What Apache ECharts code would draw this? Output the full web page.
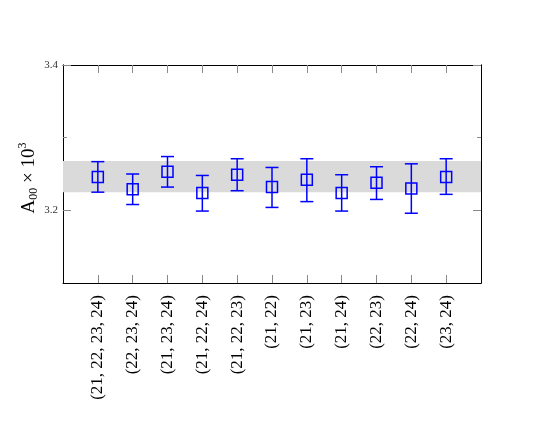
<!DOCTYPE html>
<html>
<head>
<meta charset="utf-8">
<script src="https://cdn.jsdelivr.net/npm/echarts@6/dist/echarts.min.js"></script>
<style>
  html, body { margin: 0; padding: 0; background: #fff; }
  #chart { width: 545px; height: 436px; }
</style>
</head>
<body>
<div id="chart"></div>
<script>
  // fit sets (time slices)
  var categories = ['(21, 22, 23, 24)', '(22, 23, 24)', '(21, 23, 24)', '(21, 22, 24)', '(21, 22, 23)',
    '(21, 22)', '(21, 23)', '(21, 24)', '(22, 23)', '(22, 24)', '(23, 24)'];
  var values = [3.246, 3.229, 3.253, 3.224, 3.249, 3.232, 3.242, 3.224, 3.238, 3.230, 3.246];
  var upper  = [3.267, 3.250, 3.274, 3.248, 3.271, 3.259, 3.271, 3.249, 3.260, 3.264, 3.271];
  var lower  = [3.225, 3.208, 3.232, 3.199, 3.227, 3.204, 3.212, 3.199, 3.215, 3.196, 3.222];
  var band = [3.225, 3.268];
  var yTicks = [3.2, 3.4];

  var serif = '"Liberation Serif", "DejaVu Serif", serif';
  var blue = '#0000ff';
  var tickGrey = '#888';

  var points = values.map(function (v, i) { return [i + 1, v]; });
  var bars = values.map(function (v, i) { return [i + 1, lower[i], upper[i]]; });

  var chart = echarts.init(document.getElementById('chart'));

  function yAx(pos, ticks, len, showLabel) {
    return {
      type: 'value', position: pos, min: 3.1, max: 3.4, interval: 0.1,
      axisLine: { show: true, onZero: false, lineStyle: { color: '#000', width: 1 } },
      axisTick: { show: true, inside: true, length: len, customValues: ticks, lineStyle: { color: tickGrey, width: 1 } },
      axisLabel: showLabel ? {
        show: true, customValues: yTicks, margin: 5, fontFamily: serif, fontSize: 11, color: '#333',
        formatter: function (v) { return v.toFixed(1); }
      } : { show: false },
      splitLine: { show: false }
    };
  }

  var yLeft = yAx('left', yTicks, 8, true);
  yLeft.name = '{a|A}{sub|00}{a| \u00d7 10}{sup|3}';
  yLeft.nameLocation = 'middle';
  yLeft.nameGap = 22;
  yLeft.nameMoveOverlap = false;
  yLeft.nameRotate = 90;
  yLeft.nameTextStyle = {
    fontFamily: serif, fontSize: 19, color: '#000', padding: [0, 8, 0, 0],
    rich: {
      a: { fontFamily: serif, fontSize: 19, color: '#000', lineHeight: 24 },
      sub: { fontFamily: serif, fontSize: 12, color: '#000', padding: [10, 0, 0, 0], lineHeight: 24 },
      sup: { fontFamily: serif, fontSize: 12, color: '#000', padding: [0, 0, 12, 0], lineHeight: 24 }
    }
  };

  var option = {
    animation: false,
    grid: { left: 63, top: 65, right: 64, bottom: 153 },
    xAxis: [
      {
        type: 'value', position: 'bottom', min: 0, max: 12, interval: 1,
        axisLine: { show: true, onZero: false, lineStyle: { color: '#000', width: 1 } },
        axisTick: { show: true, inside: true, length: 8, customValues: [1,2,3,4,5,6,7,8,9,10,11], lineStyle: { color: tickGrey } },
        axisLabel: {
          show: true, rotate: 90, margin: 12, fontFamily: serif, fontSize: 17, color: '#000',
          customValues: [1,2,3,4,5,6,7,8,9,10,11],
          formatter: function (v) { return categories[Math.round(v) - 1] || ''; }
        },
        splitLine: { show: false }
      },
      {
        type: 'value', position: 'top', min: 0, max: 12, interval: 1,
        axisLine: { show: true, onZero: false, lineStyle: { color: '#000', width: 1 } },
        axisTick: { show: true, inside: true, length: 8, customValues: [1,2,3,4,5,6,7,8,9,10,11], lineStyle: { color: tickGrey } },
        axisLabel: { show: false },
        splitLine: { show: false }
      }
    ],
    yAxis: [
      yLeft,
      yAx('left', [3.3], 4, false),
      yAx('right', [3.2, 3.4], 8, false),
      yAx('right', [3.3], 4, false)
    ],
    series: [
      {
        type: 'custom',
        xAxisIndex: 0, yAxisIndex: 0,
        data: bars,
        markArea: {
          silent: true,
          itemStyle: { color: '#dadada' },
          data: [[{ yAxis: band[0], x: 63 }, { yAxis: band[1], x: 481 }]]
        },
        renderItem: function (params, api) {
          var top = api.coord([api.value(0), api.value(2)]);
          var bot = api.coord([api.value(0), api.value(1)]);
          var w = 6.5;
          var style = { stroke: blue, lineWidth: 1.5 };
          return {
            type: 'group',
            children: [
              { type: 'line', shape: { x1: top[0], y1: top[1], x2: bot[0], y2: bot[1] }, style: style },
              { type: 'line', shape: { x1: top[0] - w, y1: top[1], x2: top[0] + w, y2: top[1] }, style: style },
              { type: 'line', shape: { x1: bot[0] - w, y1: bot[1], x2: bot[0] + w, y2: bot[1] }, style: style }
            ]
          };
        },
        z: 3
      },
      {
        type: 'scatter',
        xAxisIndex: 0, yAxisIndex: 0,
        data: points,
        symbol: 'rect',
        symbolSize: 11,
        itemStyle: { color: 'rgba(0,0,0,0)', borderColor: blue, borderWidth: 1.5, opacity: 1 },
        z: 4
      }
    ]
  };

  chart.setOption(option);
</script>
</body>
</html>
